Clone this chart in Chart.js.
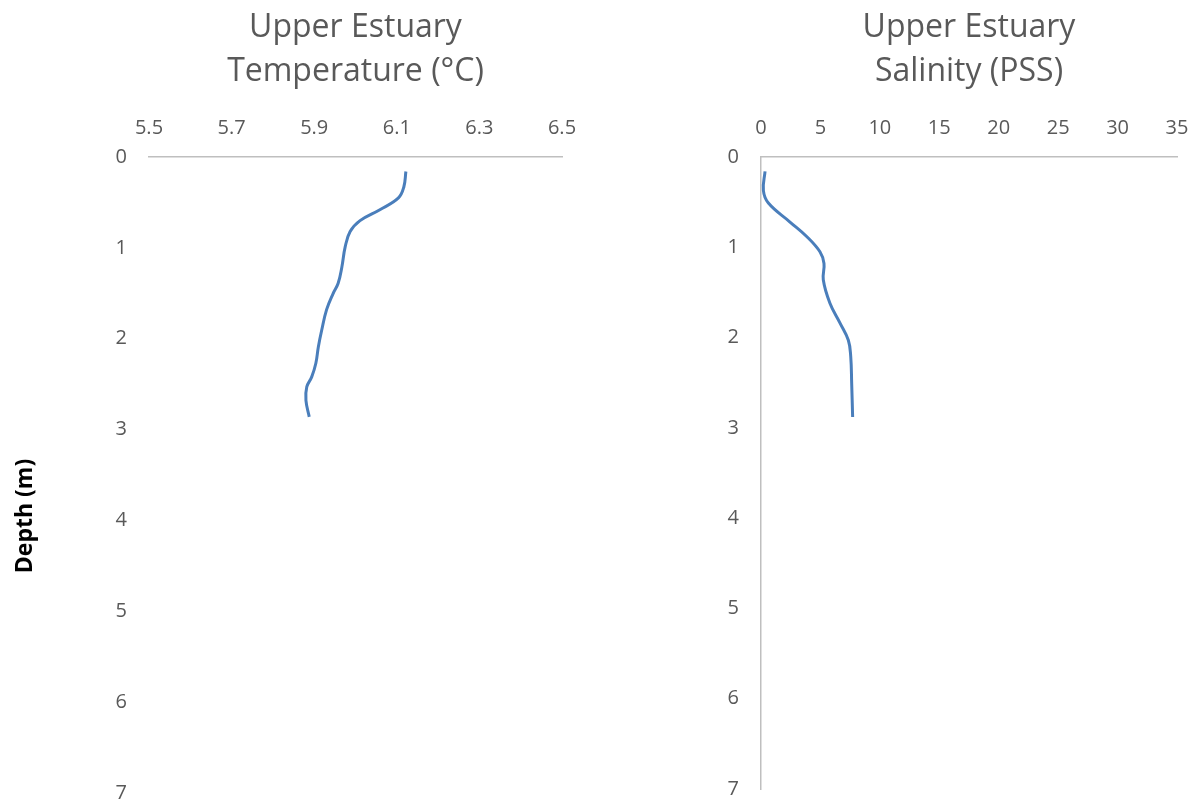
<!DOCTYPE html>
<html>
<head>
<meta charset="utf-8">
<script src="https://cdn.jsdelivr.net/npm/chart.js@4/dist/chart.umd.min.js"></script>
<style>
  html, body { margin: 0; padding: 0; background: #fff; }
  #wrap { position: relative; width: 1200px; height: 808px; }
  .box { position: absolute; top: 0; width: 600px; height: 808px; }
  #b1 { left: 0; }
  #b2 { left: 600px; }
</style>
</head>
<body>
<div id="wrap">
  <div class="box" id="b1"><canvas id="c1" width="600" height="808"></canvas></div>
  <div class="box" id="b2"><canvas id="c2" width="600" height="808"></canvas></div>
</div>
<script>
// ---- Data ----
const tempDepth = [0.16, 0.33, 0.45, 0.58, 0.70, 0.82, 0.99, 1.21, 1.39, 1.50, 1.68, 1.91, 2.09, 2.27, 2.42, 2.53, 2.68, 2.86];
const tempValues = [6.122, 6.117, 6.104, 6.059, 6.011, 5.987, 5.975, 5.967, 5.958, 5.946, 5.930, 5.918, 5.910, 5.904, 5.894, 5.882, 5.880, 5.888];

const salDepth = [0.16, 0.37, 0.51, 0.72, 0.88, 1.05, 1.18, 1.36, 1.62, 1.84, 2.03, 2.21, 2.51, 2.88];
const salValues = [0.34, 0.20, 0.62, 2.44, 3.84, 4.96, 5.30, 5.24, 5.80, 6.65, 7.35, 7.55, 7.63, 7.71];

const tempTicks = [5.5, 5.7, 5.9, 6.1, 6.3, 6.5];
const salTicks = [0, 5, 10, 15, 20, 25, 30, 35];
const depthTicks = [0, 1, 2, 3, 4, 5, 6, 7];

const tempTitle = ['Upper Estuary', 'Temperature (°C)'];
const salTitle = ['Upper Estuary', 'Salinity (PSS)'];
const depthLabel = 'Depth (m)';

// ---- Styling ----
const FONT = "'Open Sans', 'Liberation Sans', sans-serif";
const GREY = '#595959';
const AXIS = '#bfbfbf';
const LINE = '#4a7ebb';
const CLEAR = 'rgba(0,0,0,0)';

function pts(xs, ys) { return xs.map((v, i) => ({ x: v, y: ys[i] })); }

const depthLabelPlugin = {
  id: 'depthLabel',
  afterDraw(chart) {
    const ctx = chart.ctx;
    ctx.save();
    ctx.translate(25, 516);
    ctx.rotate(-Math.PI / 2);
    ctx.font = "bold 23px " + FONT;
    ctx.fillStyle = '#000';
    ctx.textAlign = 'center';
    ctx.textBaseline = 'middle';
    ctx.fillText(depthLabel, 0, 0);
    ctx.restore();
  }
};

function makeChart(id, titleLines, xs, ys, ticksX, xmin, xmax, yWidth, padRight, padBottom, showYBorder, plugins) {
  return new Chart(document.getElementById(id), {
    type: 'scatter',
    data: {
      datasets: [{
        data: pts(xs, ys),
        showLine: true,
        borderColor: LINE,
        borderWidth: 3,
        pointRadius: 0,
        tension: 0.4,
        fill: false
      }]
    },
    options: {
      responsive: false,
      animation: false,
      layout: { padding: { left: 0, right: padRight, top: 0, bottom: padBottom } },
      plugins: {
        legend: { display: false },
        tooltip: { enabled: false },
        title: { display: false }
      },
      scales: {
        x: {
          type: 'linear',
          position: 'top',
          min: xmin,
          max: xmax,
          afterBuildTicks(scale) { scale.ticks = ticksX.map(v => ({ value: v })); },
          afterFit(scale) { scale.height = 157; },
          title: {
            display: true,
            text: titleLines,
            color: GREY,
            font: { family: FONT, size: 32, weight: 'normal', lineHeight: 1.4 },
            padding: { top: 5, bottom: 0 }
          },
          grid: { display: true, drawOnChartArea: false, drawTicks: true, tickLength: 14, tickColor: CLEAR },
          border: { display: true, color: AXIS, width: 1.5 },
          ticks: {
            color: GREY,
            padding: 3,
            font: { family: FONT, size: 20 },
            maxRotation: 0,
            callback: v => String(v)
          }
        },
        y: {
          type: 'linear',
          reverse: true,
          min: 0,
          max: 7,
          afterBuildTicks(scale) { scale.ticks = depthTicks.map(v => ({ value: v })); },
          afterFit(scale) { scale.width = yWidth; },
          grid: { display: true, drawOnChartArea: false, drawTicks: true, tickLength: 19, tickColor: CLEAR },
          border: { display: showYBorder, color: AXIS, width: 1.5 },
          ticks: {
            color: GREY,
            padding: 3,
            font: { family: FONT, size: 20 },
            callback: v => String(v)
          }
        }
      }
    },
    plugins: plugins
  });
}

makeChart('c1', tempTitle, tempValues, tempDepth, tempTicks, 5.5, 6.5, 149, 38, 15, false, [depthLabelPlugin]);
makeChart('c2', salTitle, salValues, salDepth, salTicks, 0, 35, 161, 23, 19, true, []);
</script>
</body>
</html>
